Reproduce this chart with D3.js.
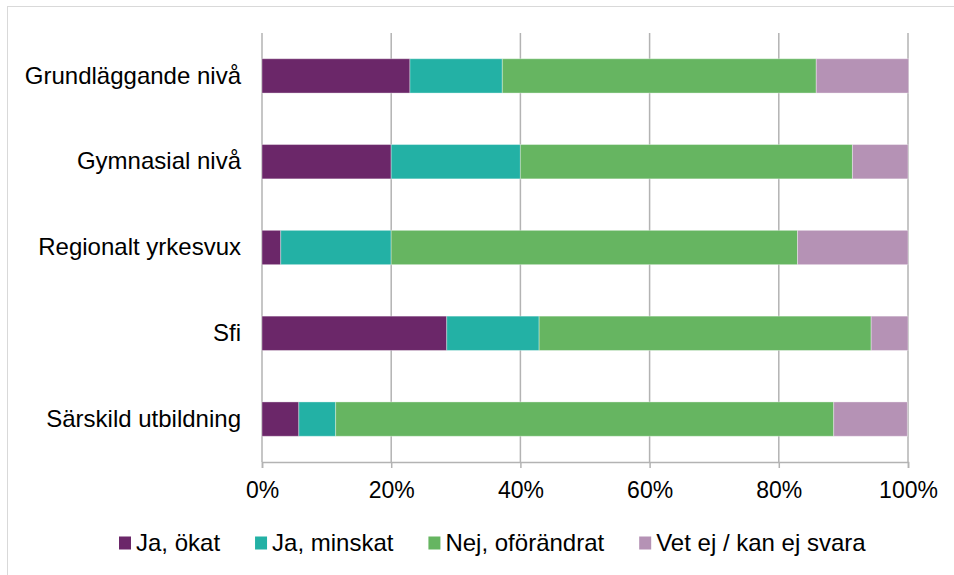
<!DOCTYPE html>
<html>
<head>
<meta charset="utf-8">
<script src="https://cdn.jsdelivr.net/npm/d3@7"></script>
<style>
  html, body { margin: 0; padding: 0; background: #fff; }
  svg { display: block; font-family: "Liberation Sans", Arial, sans-serif; }
</style>
</head>
<body>
<svg id="chart" width="954" height="575"></svg>
<script>
const categories = ["Grundläggande nivå", "Gymnasial nivå", "Regionalt yrkesvux", "Sfi", "Särskild utbildning"];
const seriesNames = ["Ja, ökat", "Ja, minskat", "Nej, oförändrat", "Vet ej / kan ej svara"];
const jaOkat      = [22.9, 20.0, 2.9, 28.6, 5.7];
const jaMinskat   = [14.3, 20.0, 17.1, 14.3, 5.7];
const nejOforandr = [48.6, 51.4, 62.9, 51.4, 77.1];
const vetEj       = [14.3, 8.6, 17.1, 5.7, 11.4];
const colors = ["#6B2769", "#23B1A5", "#66B561", "#B592B5"];
const tickValues = [0, 20, 40, 60, 80, 100];

const seriesValues = [jaOkat, jaMinskat, nejOforandr, vetEj];
const rows = categories.map((c, i) => {
  const r = { cat: c };
  seriesNames.forEach((s, j) => r[s] = seriesValues[j][i]);
  return r;
});

const svg = d3.select("#chart");
const plotLeft = 262, plotRight = 908, plotTop = 33, plotBottom = 462;

// chart border
svg.append("rect").attr("x", 7.5).attr("y", 6.5).attr("width", 1000).attr("height", 1000)
  .attr("fill", "none").attr("stroke", "#D9D9D9").attr("stroke-width", 1);

const x = d3.scaleLinear().domain([0, 100]).range([plotLeft, plotRight]);
const y = d3.scaleBand().domain(categories).range([plotTop, plotBottom]).paddingInner(0.6).paddingOuter(0.3);

// gridlines
svg.append("g").selectAll("line").data(tickValues).join("line")
  .attr("x1", d => x(d)).attr("x2", d => x(d))
  .attr("y1", plotTop).attr("y2", plotBottom)
  .attr("stroke", "#B3B3B3").attr("stroke-width", 1.5);

// bars
const stack = d3.stack().keys(seriesNames)(rows);
svg.append("g").selectAll("g").data(stack).join("g")
  .attr("fill", (d, i) => colors[i])
  .selectAll("rect").data(d => d).join("rect")
  .attr("x", d => x(d[0]))
  .attr("width", d => x(d[1]) - x(d[0]))
  .attr("y", d => y(d.data.cat))
  .attr("height", y.bandwidth())
  .attr("stroke", "#ffffff").attr("stroke-opacity", 0.35).attr("stroke-width", 1);

// x axis
const xAxis = d3.axisBottom(x).tickValues(tickValues).tickFormat(d => d + "%").tickSize(6).tickPadding(14);
const gx = svg.append("g").attr("transform", `translate(0,${plotBottom})`).call(xAxis);
gx.select(".domain").attr("stroke", "#B3B3B3").attr("stroke-width", 1.5);
gx.selectAll(".tick line").attr("stroke", "#B3B3B3").attr("stroke-width", 1.5);
gx.selectAll(".tick text").attr("fill", "#000").style("font-size", "23px")
  .style("font-family", "'Liberation Sans', Arial, sans-serif");

// y labels
const yAxis = d3.axisLeft(y).tickSize(0).tickPadding(21);
const gy = svg.append("g").attr("transform", `translate(${plotLeft},0)`).call(yAxis);
gy.select(".domain").remove();
gy.selectAll(".tick text").attr("fill", "#000").style("font-size", "24px")
  .style("font-family", "'Liberation Sans', Arial, sans-serif");

// legend
const legend = svg.append("g").attr("transform", "translate(119,543)");
let lx = 0;
seriesNames.forEach((s, i) => {
  const g = legend.append("g").attr("transform", `translate(${lx},0)`);
  g.append("rect").attr("x", 0).attr("y", -6.5).attr("width", 12).attr("height", 13).attr("fill", colors[i]);
  const t = g.append("text").attr("x", 17).attr("y", 0).attr("dy", "0.35em")
    .style("font-size", "24px").attr("fill", "#000").text(s);
  lx += 17 + t.node().getComputedTextLength() + 35;
});
</script>
</body>
</html>
